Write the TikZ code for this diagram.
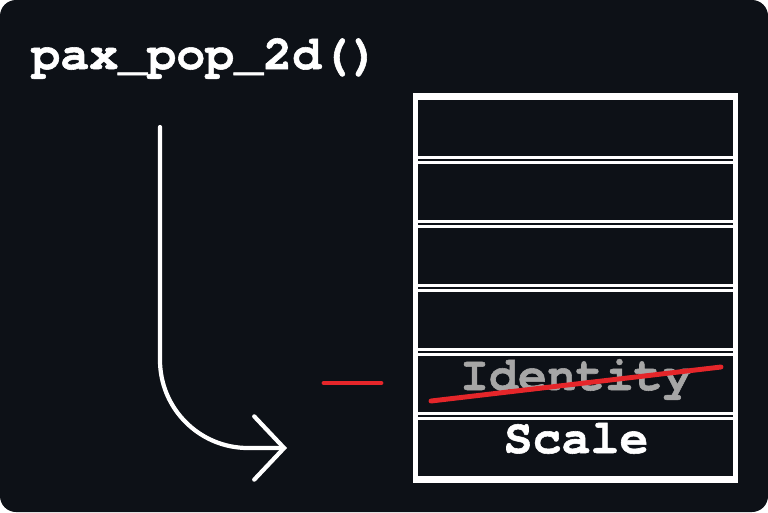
\documentclass[tikz,border=0pt]{standalone}
\usepackage{fontspec}
\setmonofont{TeX Gyre Cursor}[BoldFeatures={FakeBold=1.2}]
\usetikzlibrary{arrows.meta}
\definecolor{panelBg}{HTML}{0D1117}
\definecolor{strikeRed}{HTML}{E5262A}
\definecolor{oldGrey}{HTML}{A6A6A6}
\newcommand{\codefont}{\fontsize{27.5}{30}\selectfont\ttfamily\bfseries}
\begin{document}
\begin{tikzpicture}[x=0.02cm,y=-0.02cm,
    cell/.style={draw=white,line width=1.6pt,minimum width=6.4cm,minimum height=1.18cm,inner sep=0pt},
    codetext/.style={font=\codefont,inner sep=0pt,anchor=base}]
        \useasboundingbox (0,0) rectangle (768,512);
        \fill[white] (0,0) rectangle (768,512);
        \fill[panelBg,rounded corners=0.32cm] (0,0) rectangle (768,512);

        % titre
        \draw (31,69) node[codetext,anchor=base west,text=white] (title) {pax\_pop\_2d()};

        % la pile
        \draw (576,128) node[cell] (cell1) {};
        \draw (576,192) node[cell] (cell2) {};
        \draw (576,256) node[cell] (cell3) {};
        \draw (576,320) node[cell] (cell4) {};
        \draw (576,384) node[cell] (cell5) {};
        \draw (576,448) node[cell] (cell6) {};
        \draw[white,line width=2.6pt] (415.5,95.5) rectangle (735.5,480.5);

        \draw (576,390) node[codetext,text=oldGrey] (identity) {Identity};
        \draw (576,453) node[codetext,text=white] (scale) {Scale};

        % element retire
        \draw (431,401) coordinate (strikeLeft);
        \draw (721,367) coordinate (strikeRight);
        \draw[strikeRed,line width=2.8pt,line cap=round] (strikeLeft) -- (strikeRight);

        \draw (324,383) coordinate (minusLeft);
        \draw (381,383) coordinate (minusRight);
        \draw[strikeRed,line width=2.8pt,line cap=round] (minusLeft) -- (minusRight);

        % fleche du pop
        \draw (160,127) coordinate (popStart);
        \draw (287,448) coordinate (popEnd);
        \draw[white,line width=2.4pt,line cap=round,rounded corners=1.76cm,
            -{Straight Barb[length=17pt,width=36pt,line cap=round]}]
        (popStart) |- (popEnd);
    \end{tikzpicture}
\end{document}
